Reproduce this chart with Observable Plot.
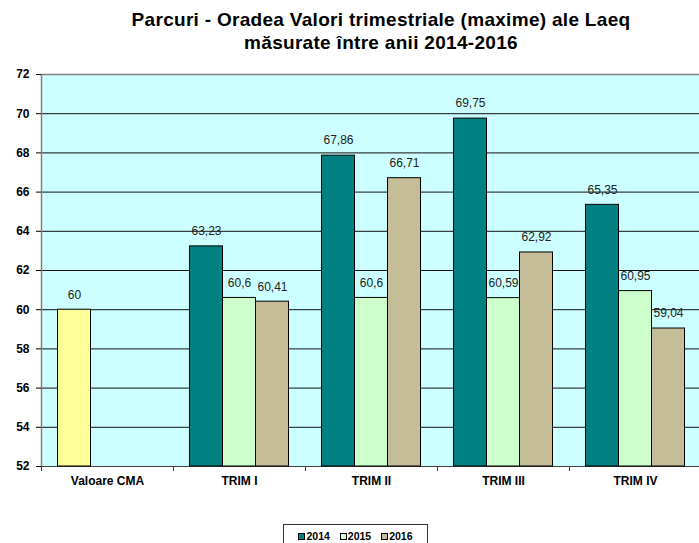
<!DOCTYPE html>
<html>
<head>
<meta charset="utf-8">
<script src="https://cdn.jsdelivr.net/npm/d3@7"></script>
<script src="https://cdn.jsdelivr.net/npm/@observablehq/plot@0.6"></script>
<style>
  html, body { margin: 0; padding: 0; background: #fff; }
  body { width: 699px; height: 543px; position: relative; overflow: hidden; font-family: "Liberation Sans", Arial, sans-serif; }
  #title { position: absolute; left: 0; top: 0; width: 699px; box-sizing: border-box; padding-left: 63px; padding-top: 9px; text-align: center; font-weight: bold; font-size: 19px; line-height: 22.6px; letter-spacing: 0.3px; color: #000; }
  #chart { position: absolute; left: 0; top: 58px; }
  #legend { position: absolute; left: 283px; top: 524px; width: 145px; height: 24px; box-sizing: border-box; border: 1px solid #333; display: flex; justify-content: center; align-items: flex-start; padding-top: 5px; font-weight: bold; font-size: 10.5px; }
  .item { display: flex; align-items: center; margin: 0 5px; }
  .sw { width: 5px; height: 5px; border: 1px solid #000; margin-right: 1px; }
</style>
</head>
<body>
<div id="title">Parcuri - Oradea Valori trimestriale (maxime) ale Laeq<br>măsurate între anii 2014-2016</div>
<div id="chart"></div>
<div id="legend"></div>
<script>
// ---- data ----
const categories = ["Valoare CMA", "TRIM I", "TRIM II", "TRIM III", "TRIM IV"];
const years = ["2014", "2015", "2016"];
const values2014 = [null, 63.23, 67.86, 69.75, 65.35];
const values2015 = [null, 60.6, 60.6, 60.59, 60.95];
const values2016 = [null, 60.41, 66.71, 62.92, 59.04];
const cmaValue = 60;
const yTicks = [52, 54, 56, 58, 60, 62, 64, 66, 68, 70, 72];
const seriesColors = {CMA: "#FFFF99", "2014": "#008080", "2015": "#CCFFCC", "2016": "#C4BD97"};

// ---- table ----
const rows = [{cat: categories[0], series: "CMA", slot: 0, value: cmaValue}];
const byYear = [values2014, values2015, values2016];
categories.forEach((c, i) => {
  years.forEach((y, j) => {
    const v = byYear[j][i];
    if (v != null) rows.push({cat: c, series: y, slot: j, value: v});
  });
});
const fmt = v => String(v).replace(".", ",");
const yMin = yTicks[0], yMax = yTicks[yTicks.length - 1];

const chart = Plot.plot({
  width: 699,
  height: 442,
  marginLeft: 39,
  marginRight: -4,
  marginTop: 16,
  marginBottom: 34,
  style: {fontFamily: "'Liberation Sans', Arial, sans-serif", fontWeight: "bold", background: "transparent", color: "#000"},
  fx: {domain: categories, padding: 0},
  x: {domain: [0, years.length + 1]},
  y: {domain: [yMin, yMax]},
  color: {domain: Object.keys(seriesColors), range: Object.values(seriesColors)},
  marks: [
    Plot.frame({fill: "#CCFFFF", stroke: "none", shapeRendering: "crispEdges"}),
    Plot.gridY(yTicks.slice(1, -1), {stroke: "#111", strokeOpacity: 1, strokeWidth: 1}),
    Plot.ruleY([yMax], {stroke: "#808080", strokeWidth: 1.5}),
    Plot.ruleY([yMin], {stroke: "#404040", strokeWidth: 1}),
    Plot.ruleX([0], {x: d => d, fx: [categories[0]], stroke: "#808080", strokeWidth: 1.5}),
    Plot.axisX({ticks: [0], tickSize: 5, tickFormat: () => "", label: null, stroke: "#404040"}),
    Plot.rectY(rows, {
      fx: "cat",
      x1: d => d.slot + 0.5,
      x2: d => d.slot + 1.5,
      y1: yMin,
      y2: "value",
      fill: "series",
      stroke: "#000",
      strokeWidth: 1
    }),
    Plot.text(rows, {
      fx: "cat",
      x: d => d.slot + 1,
      y: "value",
      text: d => fmt(d.value),
      dy: -15,
      fontSize: 12,
      fontWeight: "normal",
      fill: "#222"
    }),
    Plot.axisY({ticks: yTicks, tickSize: 5, tickPadding: 7, fontWeight: "bold", fontSize: 12, label: null, tickFormat: d => String(d)}),
    Plot.axisFx({anchor: "bottom", tickSize: 0, tickPadding: 10, fontWeight: "bold", fontSize: 12, label: null})
  ]
});
d3.select(chart).selectAll('g[aria-label="y-axis tick label"]')
  .attr("font-weight", "bold").attr("font-size", 12).attr("fill", "#000")
  .selectAll("text").attr("font-weight", "bold").style("font-weight", "bold");
document.getElementById("chart").appendChild(chart);

// ---- legend ----
const legend = document.getElementById("legend");
years.forEach(y => {
  const item = document.createElement("div");
  item.className = "item";
  const sw = document.createElement("span");
  sw.className = "sw";
  sw.style.background = seriesColors[y];
  const t = document.createElement("span");
  t.textContent = y;
  item.appendChild(sw);
  item.appendChild(t);
  legend.appendChild(item);
});
</script>
</body>
</html>
